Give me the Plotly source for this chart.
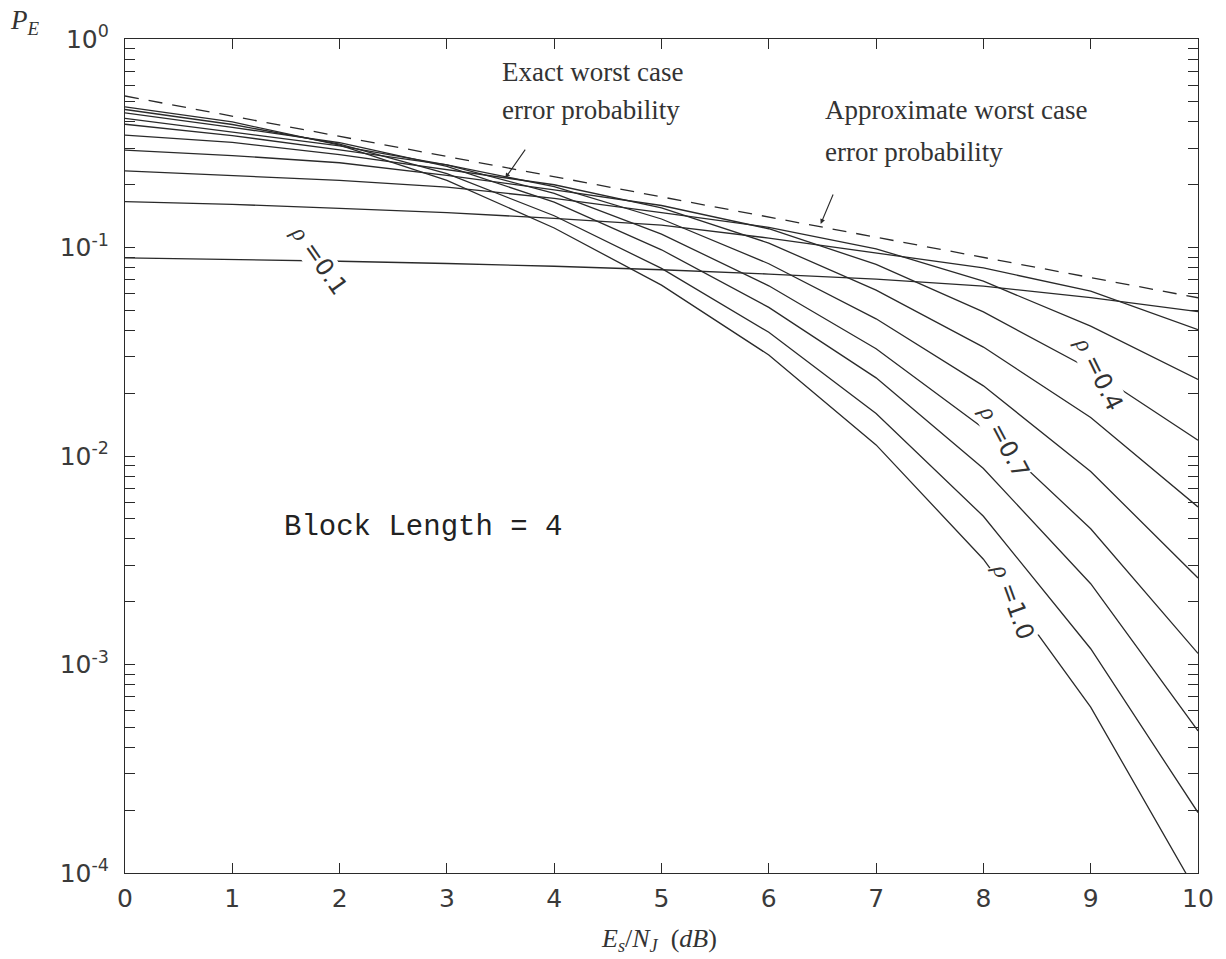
import plotly.graph_objects as go

# Es/NJ grid (dB)
snr_db = [0, 1, 2, 3, 4, 5, 6, 7, 8, 9, 10]

# Error probability for each jamming fraction rho (block length 4)
pe_rho_01 = [0.0891, 0.0877, 0.0859, 0.0838, 0.0813, 0.0782, 0.0746, 0.0705, 0.0653, 0.0575, 0.0492]
pe_rho_02 = [0.166, 0.161, 0.154, 0.147, 0.138, 0.128, 0.111, 0.0944, 0.0798, 0.0617, 0.0404]
pe_rho_03 = [0.233, 0.222, 0.210, 0.195, 0.172, 0.147, 0.125, 0.0986, 0.0689, 0.0420, 0.0233]
pe_rho_04 = [0.293, 0.276, 0.255, 0.222, 0.189, 0.159, 0.123, 0.0830, 0.0491, 0.0260, 0.0119]
pe_rho_05 = [0.346, 0.319, 0.279, 0.237, 0.200, 0.155, 0.105, 0.0624, 0.0333, 0.0153, 0.0057]
pe_rho_06 = [0.390, 0.344, 0.294, 0.249, 0.196, 0.137, 0.0836, 0.0455, 0.0217, 0.00843, 0.0026]
pe_rho_07 = [0.416, 0.356, 0.307, 0.249, 0.182, 0.116, 0.0655, 0.0327, 0.0136, 0.00448, 0.00113]
pe_rho_08 = [0.442, 0.377, 0.318, 0.245, 0.165, 0.0975, 0.0516, 0.0237, 0.00871, 0.00244, 0.00048]
pe_rho_09 = [0.459, 0.389, 0.313, 0.226, 0.142, 0.0794, 0.0392, 0.0160, 0.00514, 0.00119, 0.000195]
pe_rho_10 = [0.473, 0.400, 0.310, 0.210, 0.124, 0.066, 0.0305, 0.0113, 0.0032, 0.000625, 0.000079]

# Approximate worst case error probability (dashed)
pe_approx_worst = [0.533, 0.4265, 0.3413, 0.2731, 0.2185, 0.1749, 0.140, 0.112, 0.0896, 0.0717, 0.0574]

rho_labels = ["0.1", "0.2", "0.3", "0.4", "0.5", "0.6", "0.7", "0.8", "0.9", "1.0"]
rho_curves = [pe_rho_01, pe_rho_02, pe_rho_03, pe_rho_04, pe_rho_05,
              pe_rho_06, pe_rho_07, pe_rho_08, pe_rho_09, pe_rho_10]

# y ticks: decades labelled, 2..9 multiples as minor ticks
decades = [-4, -3, -2, -1, 0]
y_major_vals = [10.0 ** d for d in decades]
y_major_text = ["10<sup>%d</sup>" % d for d in decades]
y_minor_vals = [m * 10.0 ** d for d in decades[:-1] for m in range(2, 10)]

INK = "#2a2a2a"
SERIF = "Liberation Serif, Times New Roman, serif"
SANS = "DejaVu Sans, Arial, sans-serif"
MONO = "Courier New, Liberation Mono, monospace"

fig = go.Figure()
for lab, ys in zip(rho_labels, rho_curves):
    fig.add_trace(go.Scatter(x=snr_db, y=ys, mode="lines", name="rho=" + lab,
                             line=dict(color=INK, width=1.3)))
fig.add_trace(go.Scatter(x=snr_db, y=pe_approx_worst, mode="lines", name="approx",
                         line=dict(color=INK, width=1.3, dash="14px,10px")))

axis_common = dict(showline=True, linecolor=INK, linewidth=1.2, mirror="ticks",
                   ticks="inside", tickcolor=INK, tickwidth=1.1, ticklen=10,
                   showgrid=False, zeroline=False,
                   tickfont=dict(family=SANS, size=25, color="#3a3a3a"))

fig.update_layout(
    width=1226, height=959,
    margin=dict(l=125, r=23, t=39, b=86),
    paper_bgcolor="white", plot_bgcolor="white",
    showlegend=False,
    xaxis=dict(range=[0, 10], tickvals=snr_db, ticktext=[str(v) for v in snr_db],
               ticklabelstandoff=3, **axis_common),
    yaxis=dict(type="log", range=[-4, 0], tickvals=y_major_vals, ticktext=y_major_text,
               ticklabelstandoff=10,
               minor=dict(tickmode="array", tickvals=y_minor_vals, ticks="inside",
                          ticklen=10, tickcolor=INK, tickwidth=1.1),
               **axis_common),
)

ann = []
# axis labels
ann.append(dict(xref="paper", yref="paper", x=-0.093, y=1.02, xanchor="center",
                yanchor="middle", showarrow=False,
                text="<i>P<sub>E</sub></i>", font=dict(family=SERIF, size=27, color="#333")))
ann.append(dict(xref="paper", yref="paper", x=0.498, y=-0.080, xanchor="center",
                yanchor="middle", showarrow=False,
                text="<i>E<sub>s</sub></i>/<i>N<sub>J</sub></i>&nbsp;&nbsp;(<i>dB</i>)",
                font=dict(family=SERIF, size=26, color="#333")))

# curve descriptions
txt_font = dict(family=SERIF, size=27, color="#333")
ann.append(dict(x=3.497, y=-0.158, xanchor="left", yanchor="middle", showarrow=False,
                text="Exact worst case", font=txt_font))
ann.append(dict(x=3.497, y=-0.341, xanchor="left", yanchor="middle", showarrow=False,
                text="error probability", font=txt_font))
ann.append(dict(x=6.503, y=-0.341, xanchor="left", yanchor="middle", showarrow=False,
                text="Approximate worst case", font=txt_font))
ann.append(dict(x=6.503, y=-0.542, xanchor="left", yanchor="middle", showarrow=False,
                text="error probability", font=txt_font))

# pointers
ann.append(dict(x=3.544, y=-0.667, ax=21, ay=-30, text="", showarrow=True,
                arrowhead=2, arrowsize=0.9, arrowwidth=1.1, arrowcolor=INK))
ann.append(dict(x=6.484, y=-0.887, ax=13, ay=-31, text="", showarrow=True,
                arrowhead=2, arrowsize=0.9, arrowwidth=1.1, arrowcolor=INK))

ann.append(dict(x=2.774, y=-2.341, showarrow=False, text="Block Length = 4",
                font=dict(family=MONO, size=29, color="#222")))


# inline rho labels
def rho_text(v):
    return ("<i><span style='font-family:%s'>ρ</span></i> =%s" % (SERIF, v))


for v, xx, yy, ang in [("0.1", 1.81, -1.06, 55), ("0.4", 9.08, -1.605, 64),
                       ("0.7", 8.19, -1.93, 62), ("1.0", 8.28, -2.70, 70)]:
    ann.append(dict(x=xx, y=yy, showarrow=False, text=rho_text(v), textangle=ang,
                    bgcolor="white", borderpad=0,
                    font=dict(family=SANS, size=24, color="#333")))

fig.update_layout(annotations=ann)
fig.write_html("out.html")
